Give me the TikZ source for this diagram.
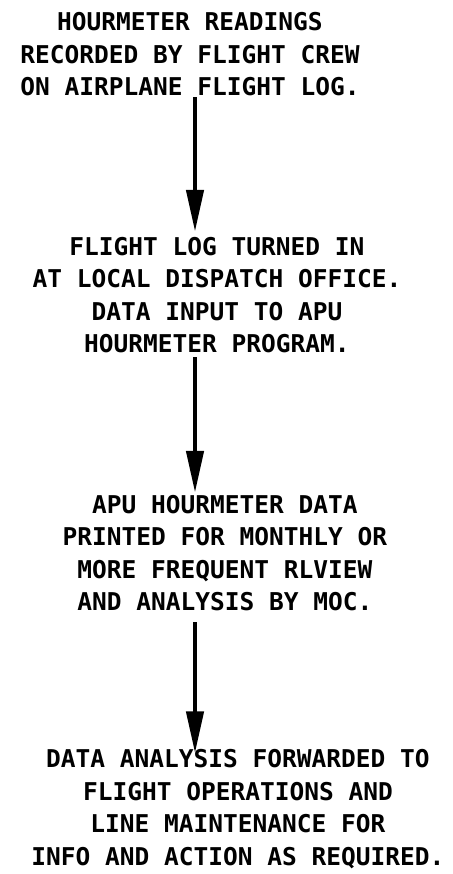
\documentclass[tikz,border=0pt]{standalone}
\usepackage{fontspec}
\newfontfamily\twfont{DejaVu Sans Mono}
\usetikzlibrary{arrows.meta}
\tikzset{
  blk/.style={align=center, inner sep=0pt, font=\twfont\bfseries\fontsize{24.5}{32.5}\selectfont},
  arr/.style={line width=4.5pt, -{Triangle[length=42pt,width=17pt]}}
}
\begin{document}
\begin{tikzpicture}[x=1pt,y=-1pt]
\path[use as bounding box, fill=white] (0,0) rectangle (452,874);
\coordinate (ax) at (195,0);
\node[blk] (b1) at (190,54.5) {HOURMETER READINGS\\RECORDED BY FLIGHT CREW\\ON AIRPLANE FLIGHT LOG.};
\node[blk] (b2) at (217,295) {FLIGHT LOG TURNED IN\\AT LOCAL DISPATCH OFFICE.\\DATA INPUT TO APU\\HOURMETER PROGRAM.};
\node[blk] (b3) at (225,553) {APU HOURMETER DATA\\PRINTED FOR MONTHLY OR\\MORE FREQUENT RLVIEW\\AND ANALYSIS BY MOC.};
\node[blk] (b4) at (238,809) {DATA ANALYSIS FORWARDED TO\\FLIGHT OPERATIONS AND\\LINE MAINTENANCE FOR\\INFO AND ACTION AS REQUIRED.};
\draw[arr] ([yshift=-1pt]b1.south -| ax) -- ([yshift=5pt]b2.north -| ax);
\draw[arr] ([yshift=-4pt]b2.south -| ax) -- ([yshift=2pt]b3.north -| ax);
\draw[arr] ([yshift=-11pt]b3.south -| ax) -- ([yshift=-4pt]b4.north -| ax);
\end{tikzpicture}
\end{document}
